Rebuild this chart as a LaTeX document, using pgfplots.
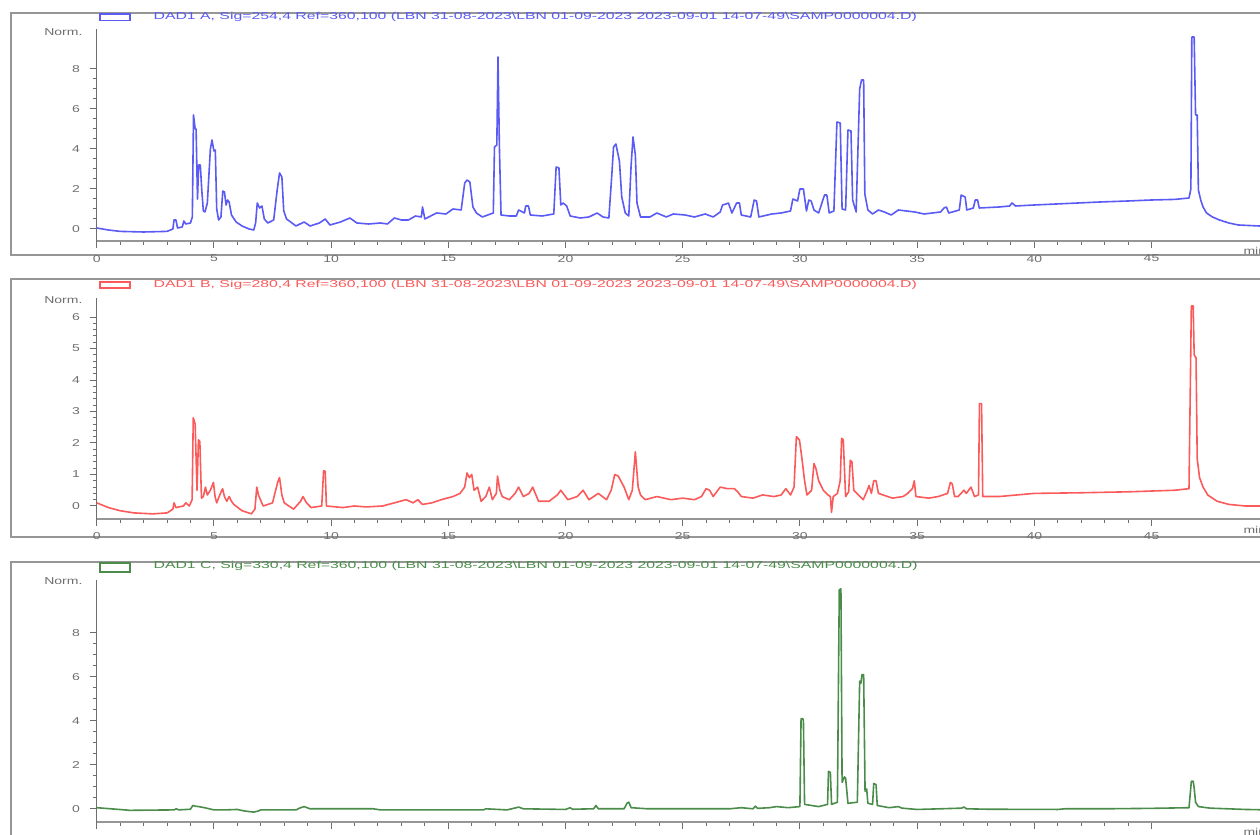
\documentclass[border=0pt]{standalone}
\usepackage{pgfplots}
\pgfplotsset{compat=1.18}
\usepackage{fontspec}
\setmainfont{Liberation Sans}
\definecolor{cA}{RGB}{90,90,245}
\definecolor{cB}{RGB}{250,90,90}
\definecolor{cC}{RGB}{75,140,75}
\definecolor{tl}{RGB}{110,110,110}
\definecolor{fr}{RGB}{150,150,150}
\pgfplotsset{chrom/.style={
  scale only axis, width=586pt, xmin=0, xmax=50,
  axis x line*=bottom, axis y line*=left,
  x axis line style={-, line width=1pt, color=fr},
  y axis line style={-, line width=0.5pt, color=tl},
  tick align=outside,
  xtick={0,5,...,45}, minor x tick num=4,
  major tick length=3.5pt, minor tick length=2pt,
  tick style={line width=0.5pt, color=tl},
  /pgf/number format/assume math mode=true,
  ticklabel style={font=\fontsize{5}{6}\selectfont, text=tl, xscale=1.4},
  every axis plot/.append style={line width=0.8pt, line join=round},
}}
\begin{document}
\begin{tikzpicture}[x=0.5pt,y=0.5pt]
\useasboundingbox (0,0) rectangle (1260,835);
\begin{scope}
\clip (0,0) rectangle (1260,835);
% frames
\draw[fr, line width=1pt] (11,822) rectangle (1290,580);
\draw[fr, line width=1pt] (11,556) rectangle (1290,298);
\draw[fr, line width=1pt] (11,273) rectangle (1290,-20);
% legends
\draw[cA, line width=0.6pt] (100,821) rectangle (130,814.5);
\node[anchor=west, text=cA, font=\fontsize{5}{6}\selectfont, xscale=1.58, inner sep=0pt] at (153,818) {DAD1 A, Sig=254,4 Ref=360,100 (LBN 31-08-2023\textbackslash LBN 01-09-2023 2023-09-01 14-07-49\textbackslash SAMP0000004.D)};
\draw[cB, line width=0.6pt] (100,553) rectangle (130,547);
\node[anchor=west, text=cB, font=\fontsize{5}{6}\selectfont, xscale=1.58, inner sep=0pt] at (153,550) {DAD1 B, Sig=280,4 Ref=360,100 (LBN 31-08-2023\textbackslash LBN 01-09-2023 2023-09-01 14-07-49\textbackslash SAMP0000004.D)};
\draw[cC, line width=0.6pt] (100,272) rectangle (130,263);
\node[anchor=west, text=cC, font=\fontsize{5}{6}\selectfont, xscale=1.58, inner sep=0pt] at (153,269) {DAD1 C, Sig=330,4 Ref=360,100 (LBN 31-08-2023\textbackslash LBN 01-09-2023 2023-09-01 14-07-49\textbackslash SAMP0000004.D)};
% min labels
\node[anchor=west, text=tl, font=\fontsize{5}{6}\selectfont, xscale=1.4, inner sep=0pt] at (1243,584) {min};
\node[anchor=west, text=tl, font=\fontsize{5}{6}\selectfont, xscale=1.4, inner sep=0pt] at (1243,305) {min};
\node[anchor=west, text=tl, font=\fontsize{5}{6}\selectfont, xscale=1.4, inner sep=0pt] at (1243,3) {min};
% Norm. labels
\node[anchor=east, text=tl, font=\fontsize{5}{6}\selectfont, xscale=1.4, inner sep=0pt] at (83,803) {Norm.};
\node[anchor=east, text=tl, font=\fontsize{5}{6}\selectfont, xscale=1.4, inner sep=0pt] at (83,535) {Norm.};
\node[anchor=east, text=tl, font=\fontsize{5}{6}\selectfont, xscale=1.4, inner sep=0pt] at (83,254) {Norm.};

% ---------- Panel A ----------
\begin{axis}[chrom, at={(48.35pt,297pt)}, anchor=south west, height=106pt,
  ymin=-0.6, ymax=10, ytick={0,2,4,6,8}, minor y tick num=3]
\addplot[cA] coordinates {
(0,0.05) (0.5,-0.05) (1,-0.12) (2,-0.15) (3,-0.12) (3.25,0.0) (3.3,0.45) (3.38,0.45) (3.45,0.05) (3.65,0.1) (3.72,0.4) (3.8,0.25) (4.0,0.3) (4.08,0.6) (4.13,5.7) (4.2,5.0) (4.24,5.0) (4.3,1.5) (4.35,3.2) (4.42,3.2) (4.48,2.0) (4.55,0.9) (4.62,0.85) (4.72,1.3) (4.85,4.0) (4.92,4.45) (5.0,3.9) (5.06,3.95) (5.12,1.0) (5.2,0.45) (5.3,0.6) (5.38,1.9) (5.45,1.85) (5.52,1.2) (5.58,1.45) (5.65,1.35) (5.75,0.7) (5.95,0.35) (6.2,0.15) (6.5,0.0) (6.7,-0.05) (6.78,0.3) (6.85,1.3) (6.95,1.05) (7.05,1.15) (7.15,0.5) (7.3,0.3) (7.55,0.45) (7.7,1.95) (7.8,2.8) (7.9,2.6) (7.98,0.9) (8.1,0.5) (8.5,0.15) (8.85,0.35) (9.1,0.15) (9.5,0.3) (9.75,0.5) (9.95,0.2) (10.4,0.35) (10.8,0.55) (11.1,0.3) (11.6,0.25) (12.1,0.3) (12.4,0.25) (12.7,0.55) (13.0,0.45) (13.3,0.45) (13.6,0.65) (13.85,0.6) (13.9,1.1) (14.0,0.5) (14.5,0.8) (14.9,0.75) (15.2,1.0) (15.55,0.95) (15.7,2.3) (15.8,2.45) (15.92,2.35) (16.05,1.1) (16.2,0.8) (16.45,0.6) (16.8,0.75) (16.92,0.8) (16.97,4.1) (17.07,4.2) (17.12,8.6) (17.18,4.1) (17.25,0.7) (17.6,0.65) (17.9,0.65) (18.0,0.95) (18.25,0.8) (18.3,1.15) (18.42,1.15) (18.5,0.7) (19.0,0.65) (19.5,0.75) (19.6,3.1) (19.72,3.05) (19.8,1.2) (19.9,1.3) (20.05,1.15) (20.2,0.65) (20.63,0.55) (21.0,0.6) (21.35,0.8) (21.6,0.6) (21.85,0.55) (21.97,2.6) (22.05,4.1) (22.15,4.25) (22.3,3.4) (22.4,1.6) (22.55,0.8) (22.7,0.65) (22.8,3.2) (22.88,4.6) (22.98,3.7) (23.05,1.3) (23.2,0.6) (23.6,0.6) (23.9,0.8) (24.3,0.6) (24.6,0.75) (25.1,0.7) (25.5,0.6) (25.96,0.75) (26.3,0.6) (26.6,0.85) (26.7,1.2) (26.85,1.25) (26.95,1.3) (27.1,0.8) (27.3,1.3) (27.42,1.3) (27.5,0.7) (27.9,0.6) (28.05,1.45) (28.15,1.4) (28.25,0.6) (28.8,0.75) (29.2,0.8) (29.6,0.9) (29.7,1.5) (29.9,1.4) (30.0,2.0) (30.15,2.0) (30.28,0.9) (30.38,1.45) (30.48,1.4) (30.6,0.95) (30.8,0.8) (31.05,1.7) (31.15,1.7) (31.25,0.8) (31.45,0.9) (31.58,5.35) (31.72,5.3) (31.8,1.0) (31.95,0.95) (32.05,4.95) (32.18,4.9) (32.25,1.45) (32.4,0.85) (32.55,7.0) (32.63,7.45) (32.72,7.45) (32.77,1.75) (32.9,0.95) (33.1,0.75) (33.35,0.95) (33.6,0.85) (33.9,0.7) (34.2,0.95) (34.9,0.85) (35.3,0.75) (36.0,0.85) (36.15,1.05) (36.25,1.1) (36.35,0.8) (36.8,0.95) (36.88,1.7) (37.05,1.6) (37.12,0.95) (37.4,1.05) (37.48,1.45) (37.58,1.45) (37.65,1.05) (38.5,1.1) (38.95,1.15) (39.05,1.3) (39.2,1.15) (40,1.2) (42.8,1.35) (44,1.4) (45,1.45) (46.0,1.48) (46.6,1.55) (46.68,2.0) (46.72,9.6) (46.82,9.6) (46.88,5.7) (46.95,5.7) (47.0,1.95) (47.1,1.45) (47.2,1.1) (47.35,0.8) (47.6,0.6) (47.9,0.45) (48.3,0.3) (48.7,0.2) (49.6,0.15) (50,0.15)
};
\end{axis}

% ---------- Panel B ----------
\begin{axis}[chrom, at={(48.35pt,158.2pt)}, anchor=south west, height=110.25pt,
  ymin=-0.4, ymax=6.6, ytick={0,1,...,6}, minor y tick num=4]
\addplot[cB] coordinates {
(0,0.1) (0.5,-0.05) (1,-0.15) (1.6,-0.22) (2.4,-0.25) (3.0,-0.22) (3.25,-0.1) (3.3,0.1) (3.38,-0.05) (3.7,0.0) (3.8,0.1) (3.95,0.0) (4.07,0.2) (4.12,2.8) (4.2,2.6) (4.28,0.5) (4.34,2.1) (4.4,2.05) (4.47,0.25) (4.55,0.3) (4.64,0.6) (4.72,0.35) (4.85,0.5) (4.98,0.75) (5.05,0.3) (5.12,0.1) (5.25,0.35) (5.37,0.55) (5.45,0.3) (5.55,0.15) (5.65,0.3) (5.75,0.15) (5.85,0.05) (6.2,-0.15) (6.6,-0.25) (6.75,-0.1) (6.83,0.6) (6.9,0.35) (7.1,0.0) (7.5,0.1) (7.72,0.75) (7.8,0.9) (7.9,0.35) (8.0,0.1) (8.4,-0.1) (8.7,0.15) (8.8,0.3) (8.95,0.1) (9.15,-0.05) (9.6,0.0) (9.68,1.12) (9.75,1.1) (9.8,0.0) (10.5,-0.05) (11,0.0) (11.5,-0.03) (12.2,0.0) (12.7,0.1) (13.2,0.2) (13.5,0.1) (13.7,0.2) (13.9,0.05) (14.3,0.1) (14.7,0.2) (15.2,0.3) (15.5,0.4) (15.7,0.6) (15.8,1.05) (15.9,0.9) (16.0,1.0) (16.1,0.5) (16.25,0.6) (16.4,0.15) (16.6,0.3) (16.75,0.6) (16.88,0.2) (17.05,0.4) (17.1,0.95) (17.2,0.5) (17.3,0.3) (17.6,0.2) (17.85,0.4) (18.0,0.6) (18.2,0.3) (18.45,0.4) (18.6,0.6) (18.85,0.15) (19.3,0.15) (19.65,0.35) (19.8,0.5) (20.1,0.2) (20.5,0.3) (20.75,0.5) (21.0,0.2) (21.4,0.4) (21.75,0.2) (21.95,0.5) (22.1,1.0) (22.25,0.95) (22.5,0.6) (22.7,0.2) (22.85,0.5) (22.98,1.72) (23.1,0.6) (23.2,0.35) (23.4,0.2) (23.9,0.3) (24.5,0.2) (25.0,0.25) (25.5,0.2) (25.8,0.3) (26.0,0.55) (26.15,0.5) (26.3,0.3) (26.5,0.5) (26.6,0.6) (26.9,0.55) (27.2,0.55) (27.35,0.45) (27.5,0.3) (28.0,0.25) (28.4,0.35) (28.9,0.3) (29.2,0.35) (29.4,0.55) (29.6,0.35) (29.75,0.6) (29.85,2.2) (29.98,2.1) (30.08,1.55) (30.2,0.8) (30.3,0.35) (30.5,0.5) (30.6,1.35) (30.68,1.2) (30.8,0.8) (31.0,0.5) (31.2,0.35) (31.3,0.3) (31.35,-0.2) (31.42,0.3) (31.6,0.4) (31.72,0.8) (31.78,2.15) (31.85,2.1) (31.95,0.3) (32.08,0.45) (32.15,1.45) (32.22,1.4) (32.3,0.5) (32.5,0.35) (32.7,0.2) (32.85,0.45) (32.95,0.65) (33.05,0.4) (33.15,0.8) (33.25,0.8) (33.35,0.4) (33.95,0.25) (34.4,0.3) (34.6,0.4) (34.8,0.55) (34.88,0.8) (34.95,0.3) (35.5,0.25) (35.9,0.3) (36.3,0.4) (36.42,0.75) (36.5,0.7) (36.6,0.3) (36.75,0.3) (37.0,0.5) (37.1,0.4) (37.3,0.6) (37.45,0.3) (37.62,0.35) (37.66,3.25) (37.75,3.25) (37.8,0.3) (38.5,0.3) (40,0.4) (42,0.42) (44,0.45) (46.0,0.5) (46.6,0.55) (46.7,6.35) (46.78,6.35) (46.82,4.8) (46.9,4.7) (46.95,1.5) (47.05,0.9) (47.2,0.6) (47.4,0.35) (47.8,0.15) (48.3,0.05) (49.0,0.0) (50,0.0)
};
\end{axis}

% ---------- Panel C ----------
\begin{axis}[chrom, at={(48.35pt,6.5pt)}, anchor=south west, height=121pt,
  ymin=-0.6, ymax=10.4, ytick={0,2,4,6,8}, minor y tick num=3]
\addplot[cC] coordinates {
(0,0.05) (0.6,0.0) (1.2,-0.05) (1.4,-0.07) (3.3,-0.05) (3.4,0.0) (3.5,-0.05) (4.0,-0.02) (4.1,0.15) (4.2,0.12) (4.35,0.1) (4.6,0.05) (5.0,-0.05) (5.2,-0.05) (5.5,-0.05) (6.0,-0.03) (6.3,-0.1) (6.7,-0.15) (6.9,-0.1) (7.0,-0.05) (8.5,-0.05) (8.7,0.05) (8.85,0.1) (9.1,0.0) (11.8,0.0) (12.1,-0.05) (15.0,-0.05) (16.5,-0.05) (16.6,0.0) (17.5,-0.05) (17.9,0.05) (18.0,0.08) (18.2,0.0) (20.0,-0.03) (20.2,0.05) (20.3,-0.02) (21.2,0.0) (21.3,0.15) (21.4,0.0) (22.5,0.0) (22.62,0.25) (22.7,0.3) (22.8,0.05) (23.5,0.0) (25,0.0) (27.0,0.0) (27.5,0.05) (28.0,0.0) (28.1,0.12) (28.2,0.02) (28.7,0.05) (29.0,0.1) (29.5,0.05) (30.0,0.1) (30.05,4.1) (30.12,4.1) (30.15,4.0) (30.2,0.2) (30.8,0.1) (31.18,0.2) (31.22,1.7) (31.3,1.65) (31.35,0.2) (31.6,0.3) (31.68,9.95) (31.75,10.0) (31.8,1.2) (31.9,1.45) (31.95,1.4) (32.05,0.25) (32.45,0.3) (32.55,5.8) (32.6,5.7) (32.65,6.1) (32.72,6.1) (32.78,0.8) (32.85,0.9) (32.9,0.25) (33.1,0.2) (33.15,1.15) (33.25,1.1) (33.3,0.15) (33.8,0.05) (34.2,0.1) (34.35,0.03) (35.0,-0.03) (36.0,0.0) (36.9,0.03) (37.0,0.08) (37.1,0.0) (38,-0.02) (41,-0.03) (41.3,0.0) (43,0.0) (45,0.02) (46.6,0.05) (46.7,1.25) (46.78,1.25) (46.82,0.95) (46.88,0.3) (47.0,0.1) (47.5,0.03) (49,-0.03) (50,-0.05)
};
\end{axis}
\end{scope}
\end{tikzpicture}
\end{document}
